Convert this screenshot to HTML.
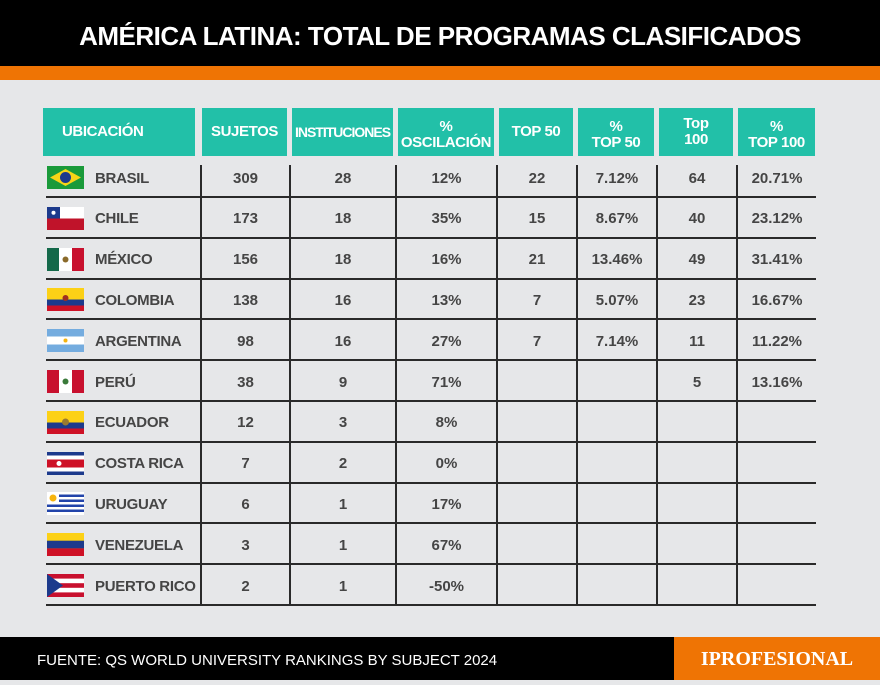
<!DOCTYPE html>
<html><head><meta charset="utf-8"><style>
body{margin:0;width:880px;height:680px;background:#e6e7e9;position:relative;overflow:hidden;font-family:"Liberation Sans",sans-serif}
.a{position:absolute}
.top{left:0;top:0;width:880px;height:66px;background:#000;color:#fff;font-weight:bold;font-size:26px;text-align:center;line-height:72px;letter-spacing:-0.5px}
.or{left:0;top:66px;width:880px;height:14px;background:#ef7404}
.h{background:#22c0a8;color:#fff;font-weight:bold;font-size:15px;display:flex;align-items:center;justify-content:center;text-align:center;line-height:16px;top:108px;height:48px;letter-spacing:-0.4px}
.hl{height:2px;background:#2a2a2a;left:46px;width:770px}
.vl{width:2px;background:#2a2a2a;top:165px;height:440px}
.c{font-weight:bold;font-size:15px;color:#454545;height:20px;line-height:20px;text-align:center}
.n{left:95px;font-weight:bold;font-size:15px;color:#454545;line-height:20px;letter-spacing:-0.3px}
.f{left:47px;width:37px;height:23px}
</style></head><body>
<div class="a top">AMÉRICA LATINA: TOTAL DE PROGRAMAS CLASIFICADOS</div>
<div class="a or"></div>
<div class="a h" style="left:43px;width:152px;justify-content:flex-start;padding-left:19px;box-sizing:border-box">UBICACIÓN</div>
<div class="a h" style="left:202px;width:85px">SUJETOS</div>
<div class="a h" style="left:292px;width:101px;font-size:14px;letter-spacing:-1px">INSTITUCIONES</div>
<div class="a h" style="left:398px;width:96px;padding-top:6px;box-sizing:border-box">%<br>OSCILACIÓN</div>
<div class="a h" style="left:499px;width:74px">TOP 50</div>
<div class="a h" style="left:578px;width:76px;padding-top:6px;box-sizing:border-box">%<br>TOP 50</div>
<div class="a h" style="left:659px;width:74px">Top<br>100</div>
<div class="a h" style="left:738px;width:77px;padding-top:6px;box-sizing:border-box">%<br>TOP 100</div>
<div id="g"></div>
<div class="a" style="left:0;top:637px;width:674px;height:43px;background:#000;color:#fff;font-size:15px;line-height:48px;padding-left:37px;box-sizing:border-box">FUENTE: QS WORLD UNIVERSITY RANKINGS BY SUBJECT 2024</div>
<div class="a" style="left:674px;top:637px;width:206px;height:43px;background:#ef7404;color:#fff;font-family:'Liberation Serif',serif;font-weight:bold;font-size:20px;line-height:44px;text-align:center">IPROFESIONAL</div>
<script>
var rows=[["BRASIL","309","28","12%","22","7.12%","64","20.71%"],["CHILE","173","18","35%","15","8.67%","40","23.12%"],["MÉXICO","156","18","16%","21","13.46%","49","31.41%"],["COLOMBIA","138","16","13%","7","5.07%","23","16.67%"],["ARGENTINA","98","16","27%","7","7.14%","11","11.22%"],["PERÚ","38","9","71%","","","5","13.16%"],["ECUADOR","12","3","8%","","","",""],["COSTA RICA","7","2","0%","","","",""],["URUGUAY","6","1","17%","","","",""],["VENEZUELA","3","1","67%","","","",""],["PUERTO RICO","2","1","-50%","","","",""]];
var flags=[
'<rect width="37" height="23" fill="#1a9a3a"/><polygon points="18.5,3 34,11.5 18.5,20 3,11.5" fill="#f7d417"/><circle cx="18.5" cy="11.5" r="5.5" fill="#1c3a8c"/>',
'<rect width="37" height="23" fill="#fff"/><rect y="11.5" width="37" height="11.5" fill="#c0132a"/><rect width="13" height="11.5" fill="#1c3a8c"/><circle cx="6.5" cy="5.7" r="2" fill="#fff"/>',
'<rect width="37" height="23" fill="#fff"/><rect width="12" height="23" fill="#14694a"/><rect x="25" width="12" height="23" fill="#c8102e"/><circle cx="18.5" cy="11.5" r="3" fill="#8a6a2a"/>',
'<rect width="37" height="23" fill="#fcd116"/><rect y="11.5" width="37" height="6" fill="#1c3a8c"/><rect y="17.5" width="37" height="5.5" fill="#ce1126"/><circle cx="18.5" cy="10" r="3" fill="#a03020"/>',
'<rect width="37" height="23" fill="#fff"/><rect width="37" height="7.5" fill="#74acdf"/><rect y="15.5" width="37" height="7.5" fill="#74acdf"/><circle cx="18.5" cy="11.5" r="2" fill="#f6b40e"/>',
'<rect width="37" height="23" fill="#fff"/><rect width="12" height="23" fill="#c8102e"/><rect x="25" width="12" height="23" fill="#c8102e"/><circle cx="18.5" cy="11.5" r="3" fill="#3a7a3a"/>',
'<rect width="37" height="23" fill="#fcd116"/><rect y="11.5" width="37" height="6" fill="#1c3a8c"/><rect y="17.5" width="37" height="5.5" fill="#ce1126"/><circle cx="18.5" cy="11" r="3.5" fill="#9a7a30"/>',
'<rect width="37" height="23" fill="#fff"/><rect width="37" height="3.5" fill="#1c3a8c"/><rect y="19.5" width="37" height="3.5" fill="#1c3a8c"/><rect y="7.5" width="37" height="8" fill="#ce1126"/><circle cx="12" cy="11.5" r="2.5" fill="#fff"/>',
'<rect width="37" height="23" fill="#fff"/><rect x="12" y="2.5" width="25" height="2.5" fill="#2244aa"/><rect x="12" y="7.5" width="25" height="2.5" fill="#2244aa"/><rect y="12.5" width="37" height="2.5" fill="#2244aa"/><rect y="17.5" width="37" height="2.5" fill="#2244aa"/><circle cx="6" cy="6" r="3.5" fill="#f6b40e"/>',
'<rect width="37" height="23" fill="#fcd116"/><rect y="7.7" width="37" height="7.7" fill="#1c3a8c"/><rect y="15.4" width="37" height="7.6" fill="#ce1126"/>',
'<rect width="37" height="23" fill="#fff"/><rect width="37" height="4.6" fill="#c8102e"/><rect y="9.2" width="37" height="4.6" fill="#c8102e"/><rect y="18.4" width="37" height="4.6" fill="#c8102e"/><polygon points="0,0 16,11.5 0,23" fill="#1c3a8c"/>'];
var cols=[[202,87],[291,104],[397,99],[498,78],[578,78],[658,78],[738,78]];
var h='',step=40.8;
for(var i=0;i<11;i++){var cy=177.5+i*step;
h+='<svg class="a f" style="top:'+(cy-11.5)+'px" viewBox="0 0 37 23">'+flags[i]+'</svg>';
h+='<div class="a n" style="top:'+(cy-9)+'px">'+rows[i][0]+'</div>';
for(var j=0;j<7;j++){var t=rows[i][j+1];
h+='<div class="a c" style="left:'+cols[j][0]+'px;width:'+cols[j][1]+'px;top:'+(cy-9)+'px">'+t+'</div>';}
h+='<div class="a hl" style="top:'+(196+i*step)+'px"></div>';}
[200,289,395,496,576,656,736].forEach(function(x){h+='<div class="a vl" style="left:'+x+'px"></div>';});
document.getElementById('g').innerHTML=h;
</script>
</body></html>
